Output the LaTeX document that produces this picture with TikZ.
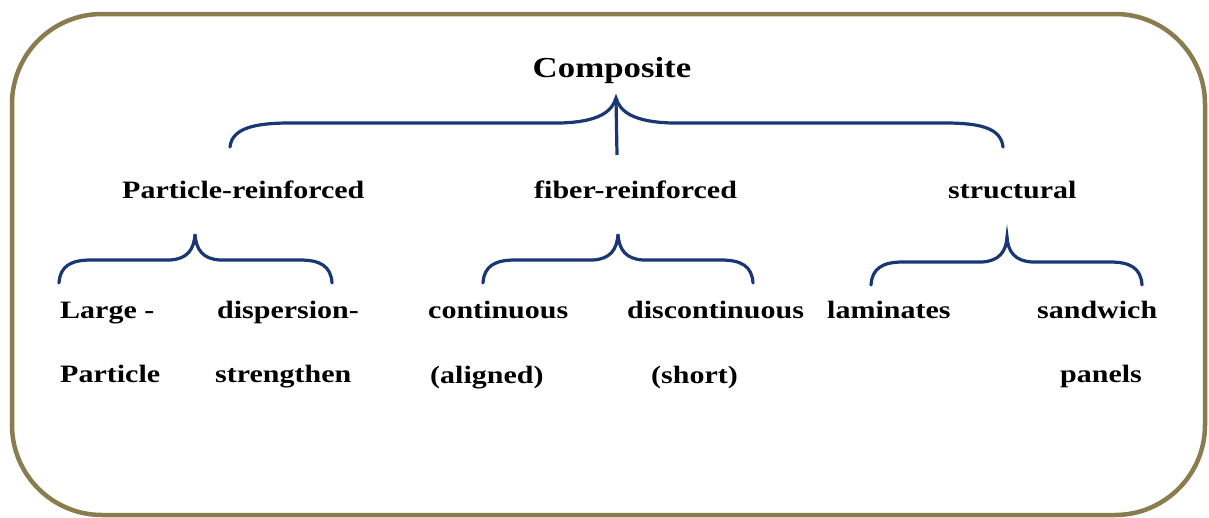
\documentclass[tikz,border=0pt]{standalone}
\usepackage{fontspec}
\setmainfont{Liberation Serif}[FakeStretch=1.2]
\definecolor{frameolive}{RGB}{137,125,80}
\definecolor{bracenavy}{RGB}{25,55,115}
\newcommand\mybrace[6]{% L, tip, R, yEnd, yH, yTip
  \draw[bracestyle] (#1,#4) .. controls ({#1+1},{#5+6}) and ({#1+12},#5) .. ({#1+32},#5)
    -- ({#2-25},#5) .. controls ({#2-8},{#5-1}) and ({#2-1},{#5-10}) .. (#2,#6)
    .. controls ({#2+1},{#5-10}) and ({#2+8},{#5-1}) .. ({#2+25},#5)
    -- ({#3-32},#5) .. controls ({#3-12},#5) and ({#3-1},{#5+6}) .. (#3,#4);}
\begin{document}
\begin{tikzpicture}[x=1pt,y=-1pt,
  bracestyle/.style={draw=bracenavy,line width=3.2pt,line cap=round},
  lab/.style={inner sep=0pt,anchor=base west,font=\fontsize{25}{30}\selectfont\bfseries},
  title/.style={inner sep=0pt,anchor=base,font=\fontsize{29}{34}\selectfont\bfseries}]
\useasboundingbox (0,0) rectangle (1209,517);
\draw[frameolive,line width=4.5pt,rounded corners=90pt] (12,14) rectangle (1205,515);
% top brace
\draw[bracestyle] (230,147) .. controls (232,128) and (255,123) .. (290,123)
  -- (560,123) .. controls (598,122) and (612,112) .. (616,98)
  .. controls (620,112) and (634,122) .. (672,123)
  -- (945,123) .. controls (980,123) and (1001,128) .. (1003,147);
\coordinate (toptip) at (616,99);
\coordinate (topstem) at (617,155);
\draw[bracestyle,line cap=butt] (toptip) -- (topstem);
% second-level braces
\mybrace{59}{195}{332}{283}{260}{234}
\mybrace{483}{618}{753}{283}{260}{234}
\mybrace{871}{1007}{1142}{285}{262}{237}
% texts
\node[title] (comp) at (612,77) {Composite};
\node[lab] (part) at (122,198) {Particle-reinforced};
\node[lab] (fib) at (534,198) {fiber-reinforced};
\node[lab] (str) at (948,198) {structural};
\node[lab] (lg1) at (60,318) {Large -};
\node[lab] (lg2) at (60,382) {Particle};
\node[lab] (ds1) at (217,318) {dispersion-};
\node[lab] (ds2) at (215,382) {strengthen};
\node[lab] (co1) at (428,318) {continuous};
\node[lab] (co2) at (430,383) {(aligned)};
\node[lab] (dc1) at (627,318) {discontinuous};
\node[lab] (dc2) at (651,383) {(short)};
\node[lab] (lam) at (827,318) {laminates};
\node[lab] (sw1) at (1037,318) {sandwich};
\node[lab] (sw2) at (1060,382) {panels};
\end{tikzpicture}
\end{document}
